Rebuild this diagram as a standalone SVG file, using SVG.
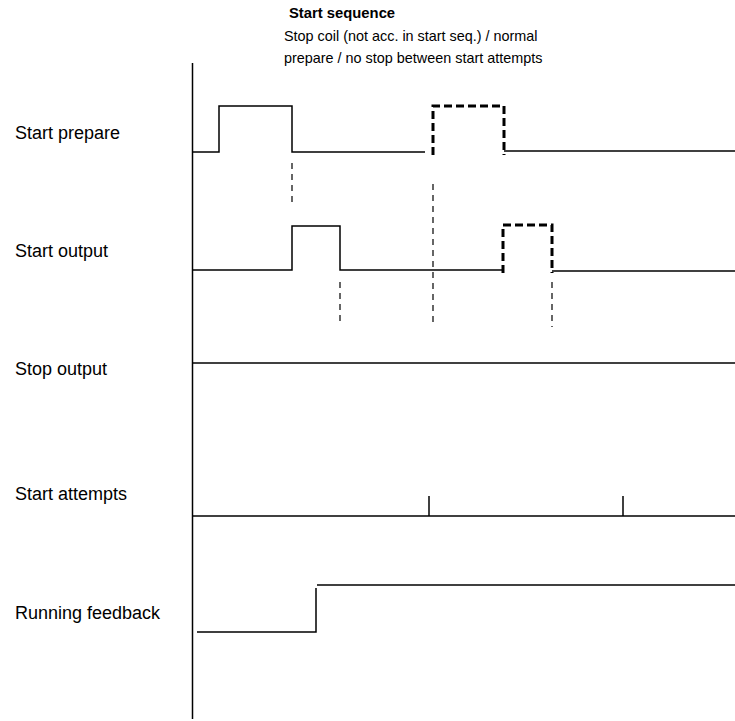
<svg xmlns="http://www.w3.org/2000/svg" width="735" height="721" viewBox="0 0 735 721">
<style>
text{font-family:"Liberation Sans",Arial,sans-serif;font-size:14.4px;fill:#000}
.lbl{font-size:18px}
.b{font-weight:bold;font-size:14.8px}
.sig{fill:none;stroke:#000;stroke-width:1.5}
.thick{fill:none;stroke:#000;stroke-width:3;stroke-dasharray:8,4}
.guide{fill:none;stroke:#000;stroke-width:1.2;stroke-dasharray:6,5}
</style>
<rect width="735" height="721" fill="#fff"/>
<g id="title">
<text x="289" y="18" class="b">Start sequence</text>
<text x="284" y="41">Stop coil (not acc. in start seq.) / normal</text>
<text x="284" y="63">prepare / no stop between start attempts</text>
</g>
<g id="labels">
<text x="15" y="139" class="lbl">Start prepare</text>
<text x="15" y="257" class="lbl">Start output</text>
<text x="15" y="375" class="lbl">Stop output</text>
<text x="15" y="500" class="lbl">Start attempts</text>
<text x="15" y="619" class="lbl">Running feedback</text>
</g>
<g id="axis">
<line class="sig" x1="192.5" y1="63" x2="192.5" y2="719"/>
</g>
<g id="start-prepare">
<polyline class="sig" points="192,152 219,152 219,106 292,106 292,152 425,152"/>
<polyline class="thick" points="433,155 433,106 504,106 504,155"/>
<line class="sig" x1="504" y1="151" x2="735" y2="151"/>
</g>
<g id="start-output">
<polyline class="sig" points="192,270 292,270 292,226 340,226 340,270 503,270"/>
<polyline class="thick" points="503,273 503,225 552,225 552,273"/>
<line class="sig" x1="552" y1="271" x2="735" y2="271"/>
</g>
<g id="stop-output">
<line class="sig" x1="192" y1="363" x2="735" y2="363"/>
</g>
<g id="start-attempts">
<line class="sig" x1="192" y1="516" x2="735" y2="516"/>
<line class="sig" x1="429" y1="496" x2="429" y2="516"/>
<line class="sig" x1="623" y1="496" x2="623" y2="516"/>
</g>
<g id="running-feedback">
<polyline class="sig" points="197,632 316,632 316,588"/>
<line class="sig" x1="317" y1="585" x2="735" y2="585"/>
</g>
<g id="connectors">
<line class="guide" x1="292" y1="163" x2="292" y2="207"/>
<line class="guide" x1="433" y1="184" x2="433" y2="325"/>
<line class="guide" x1="340" y1="282" x2="340" y2="325"/>
<line class="guide" x1="552" y1="282" x2="552" y2="327"/>
</g>
</svg>
